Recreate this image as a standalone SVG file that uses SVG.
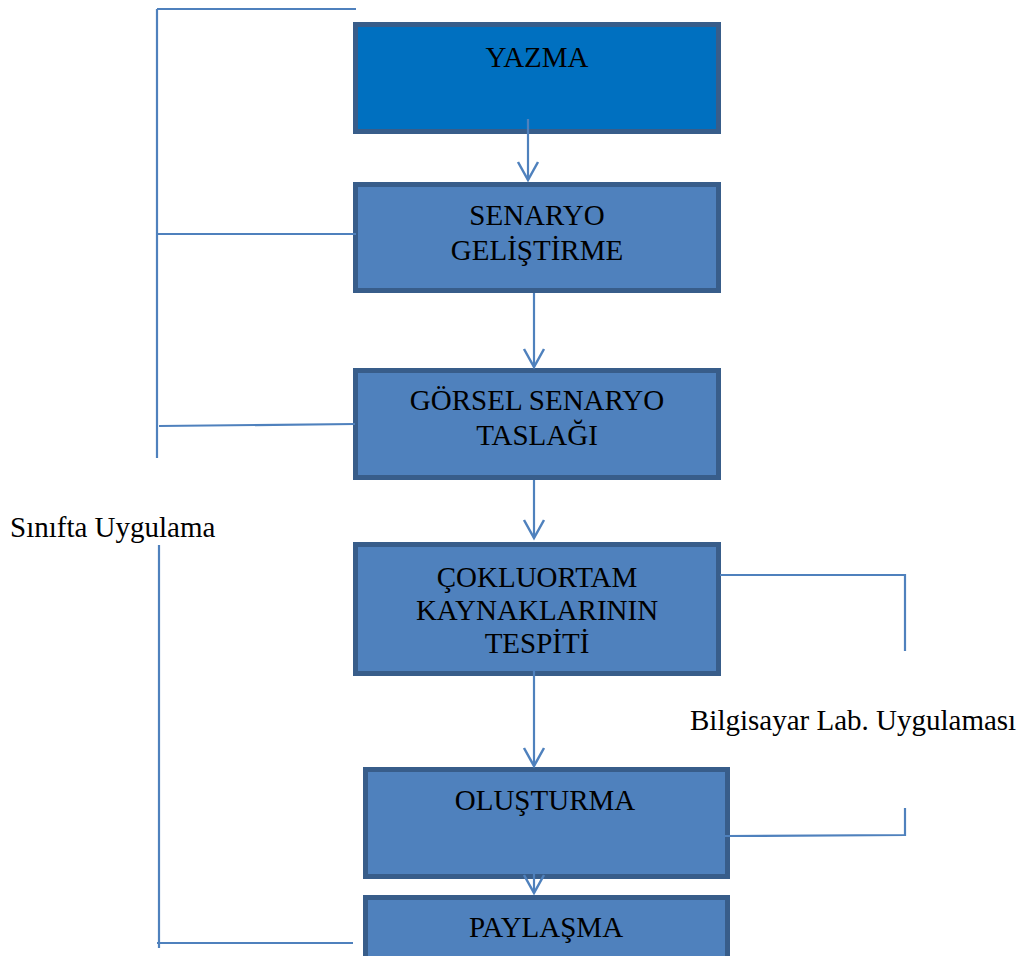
<svg xmlns="http://www.w3.org/2000/svg" width="1022" height="956" viewBox="0 0 1022 956">
  <style>
    .box { fill: #4F81BD; stroke: #385D8A; stroke-width: 5; }
    .box.dark { fill: #0070C0; }
    .lbl { font-family: "Liberation Serif", "Times New Roman", serif; font-size: 29px; fill: #000; }
    .mid { text-anchor: middle; }
    .wire { fill: none; stroke: #4F81BD; stroke-width: 2.2; }
  </style>
  <defs>
    <marker id="vhead" markerUnits="userSpaceOnUse" markerWidth="24" markerHeight="24" refX="0" refY="0" orient="auto" overflow="visible">
      <path d="M-18,-10 L0,0 L-18,10" fill="none" stroke="#4F81BD" stroke-width="2.5"/>
    </marker>
  </defs>
  <rect width="1022" height="956" fill="#fff"/>

  <g id="yazma">
    <rect class="box dark" x="355.5" y="24.5" width="363" height="107"/>
    <text class="lbl mid" x="537" y="67">YAZMA</text>
  </g>

  <g id="senaryo-gelistirme">
    <rect class="box" x="355.5" y="184.5" width="363" height="106"/>
    <text class="lbl mid" x="537" y="225">SENARYO</text>
    <text class="lbl mid" x="537" y="260">GELİŞTİRME</text>
  </g>

  <g id="gorsel-senaryo-taslagi">
    <rect class="box" x="355.5" y="370.5" width="363" height="107"/>
    <text class="lbl mid" x="537" y="410">GÖRSEL SENARYO</text>
    <text class="lbl mid" x="537" y="445">TASLAĞI</text>
  </g>

  <g id="cokluortam-kaynaklari">
    <rect class="box" x="355.5" y="544.5" width="363" height="129"/>
    <text class="lbl mid" x="537" y="587">ÇOKLUORTAM</text>
    <text class="lbl mid" x="537" y="620">KAYNAKLARININ</text>
    <text class="lbl mid" x="537" y="653">TESPİTİ</text>
  </g>

  <g id="olusturma">
    <rect class="box" x="365.5" y="769.5" width="362" height="107"/>
    <text class="lbl mid" x="545" y="810">OLUŞTURMA</text>
  </g>

  <g id="paylasma">
    <rect class="box" x="365.5" y="897.5" width="362" height="80"/>
    <text class="lbl mid" x="546" y="937">PAYLAŞMA</text>
  </g>

  <g id="sinifta-uygulama">
    <text class="lbl" x="10" y="537">Sınıfta Uygulama</text>
  </g>

  <g id="bilgisayar-lab">
    <text class="lbl" x="690" y="730">Bilgisayar Lab. Uygulaması</text>
  </g>

  <g id="connectors">
    <!-- flow arrows -->
    <line class="wire" x1="528" y1="119" x2="528" y2="180" marker-end="url(#vhead)"/>
    <line class="wire" x1="534" y1="293" x2="534" y2="367" marker-end="url(#vhead)"/>
    <line class="wire" x1="534" y1="480" x2="534" y2="538" marker-end="url(#vhead)"/>
    <line class="wire" x1="534" y1="668" x2="534" y2="766" marker-end="url(#vhead)"/>
    <line class="wire" x1="534" y1="833" x2="534" y2="893" marker-end="url(#vhead)"/>

    <!-- classroom bracket -->
    <line class="wire" x1="157" y1="9" x2="157" y2="458"/>
    <line class="wire" x1="157" y1="9" x2="356" y2="9"/>
    <line class="wire" x1="157" y1="234" x2="356" y2="234"/>
    <line class="wire" x1="159" y1="426" x2="355" y2="424"/>
    <line class="wire" x1="159" y1="545" x2="159" y2="948"/>
    <line class="wire" x1="157" y1="943" x2="353" y2="943"/>

    <!-- lab bracket -->
    <polyline class="wire" points="720,575 905,575 905,651"/>
    <polyline class="wire" points="725,836 905,835 905,808"/>
  </g>
</svg>
